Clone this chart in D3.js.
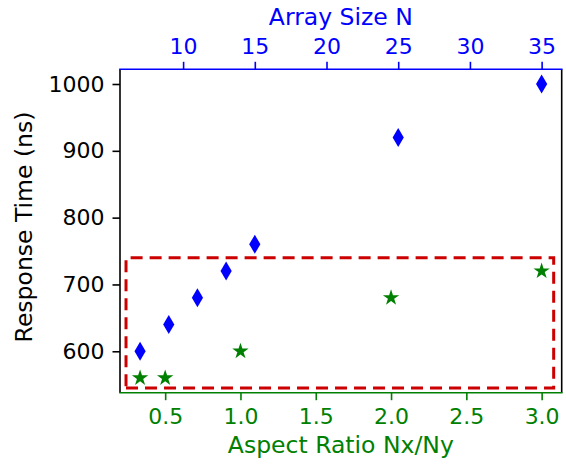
<!DOCTYPE html>
<html>
<head>
<meta charset="utf-8">
<script src="https://cdn.jsdelivr.net/npm/d3@7"></script>
<style>
  html, body { margin: 0; padding: 0; background: #fff; }
  svg { display: block; }
  text { font-family: "DejaVu Sans", sans-serif; }
</style>
</head>
<body>
<svg id="chart" width="566" height="469"></svg>
<script>
// ---- data ----
const arraySizes = [7, 9, 11, 13, 15, 25, 35];
const responseByN = [600, 640, 680, 720, 760, 920, 1000];
const aspectRatios = [1/3, 0.5, 1.0, 2.0, 3.0];
const responseByAR = [560, 560, 600, 680, 720];
const bottomTicks = [0.5, 1.0, 1.5, 2.0, 2.5, 3.0];
const topTicks = [10, 15, 20, 25, 30, 35];
const leftTicks = [600, 700, 800, 900, 1000];
const boxX = [0.24, 3.08];
const boxY = [545, 740];

// ---- layout ----
const W = 566, H = 469;
const L = 120, R = 561.7, T = 69.3, B = 392.7;
const BLUE = "#0000ff", GREEN = "#008000", RED = "#cc0000";
const TICK_FS = 22, LABEL_FS = 23.5, TL = 7.5;

const svg = d3.select("#chart");

const x = d3.scaleLinear().domain([0.2, 3.1333]).range([L, R]);
const xTop = d3.scaleLinear().domain([5.6, 36.4]).range([L, R]);
const y = d3.scaleLinear().domain([538, 1022]).range([B, T]);

// highlight box (matplotlib rectangle path order: bottom-left -> bottom-right -> top-right -> top-left)
const bp = d3.path();
bp.moveTo(x(boxX[0]), y(boxY[0]));
bp.lineTo(x(boxX[1]), y(boxY[0]));
bp.lineTo(x(boxX[1]), y(boxY[1]));
bp.lineTo(x(boxX[0]), y(boxY[1]));
bp.closePath();
svg.append("path").attr("d", bp.toString())
  .attr("fill", "none").attr("stroke", RED)
  .attr("stroke-width", 3).attr("stroke-dasharray", "12,7");

// markers
const diamond = "M0,-9.5L5.6,0L0,9.5L-5.6,0Z";
const starPts = [];
for (let i = 0; i < 10; i++) {
  const r = i % 2 === 0 ? 8.6 : 8.6 * 0.382;
  const a = -Math.PI / 2 + i * Math.PI / 5;
  starPts.push([r * Math.cos(a), r * Math.sin(a)]);
}
const star = "M" + starPts.map(p => p[0].toFixed(2) + "," + p[1].toFixed(2)).join("L") + "Z";

svg.append("g").selectAll("path").data(arraySizes.map((n, i) => [n, responseByN[i]]))
  .join("path")
  .attr("d", diamond)
  .attr("transform", d => `translate(${xTop(d[0])},${y(d[1])})`)
  .attr("fill", BLUE);

svg.append("g").selectAll("path").data(aspectRatios.map((a, i) => [a, responseByAR[i]]))
  .join("path")
  .attr("d", star)
  .attr("transform", d => `translate(${x(d[0])},${y(d[1])})`)
  .attr("fill", GREEN);

// axes
function styleAxis(g, color) {
  g.select(".domain").remove();
  g.selectAll(".tick line").attr("stroke", color).attr("stroke-width", 1.6);
  g.selectAll(".tick text").attr("fill", color).attr("font-size", TICK_FS)
    .attr("font-family", "DejaVu Sans");
}

const gLeft = svg.append("g").attr("transform", `translate(${L},0)`)
  .call(d3.axisLeft(y).tickValues(leftTicks).tickSize(TL).tickPadding(8).tickFormat(d3.format("d")));
styleAxis(gLeft, "#000");

const gBottom = svg.append("g").attr("transform", `translate(0,${B})`)
  .call(d3.axisBottom(x).tickValues(bottomTicks).tickSize(TL).tickPadding(8).tickFormat(d3.format(".1f")));
styleAxis(gBottom, GREEN);

const gTop = svg.append("g").attr("transform", `translate(0,${T})`)
  .call(d3.axisTop(xTop).tickValues(topTicks).tickSize(TL).tickPadding(8).tickFormat(d3.format("d")));
styleAxis(gTop, BLUE);

// spines
svg.append("line").attr("x1", L).attr("x2", L).attr("y1", T).attr("y2", B)
  .attr("stroke", "#000").attr("stroke-width", 1.6);
svg.append("line").attr("x1", R).attr("x2", R).attr("y1", T).attr("y2", B)
  .attr("stroke", "#000").attr("stroke-width", 1.6);
svg.append("line").attr("x1", L).attr("x2", R).attr("y1", T).attr("y2", T)
  .attr("stroke", BLUE).attr("stroke-width", 1.6).attr("stroke-linecap", "square");
svg.append("line").attr("x1", L).attr("x2", R).attr("y1", B).attr("y2", B)
  .attr("stroke", GREEN).attr("stroke-width", 1.6).attr("stroke-linecap", "square");

// axis labels
svg.append("text").attr("x", (L + R) / 2).attr("y", 453)
  .attr("text-anchor", "middle").attr("font-size", LABEL_FS).attr("fill", GREEN)
  .text("Aspect Ratio Nx/Ny");
svg.append("text").attr("x", (L + R) / 2).attr("y", 25)
  .attr("text-anchor", "middle").attr("font-size", LABEL_FS).attr("fill", BLUE)
  .text("Array Size N");
svg.append("text").attr("transform", `translate(31.5,${(T + B) / 2 - 4}) rotate(-90)`)
  .attr("text-anchor", "middle").attr("font-size", LABEL_FS).attr("fill", "#000")
  .text("Response Time (ns)");
</script>
</body>
</html>
